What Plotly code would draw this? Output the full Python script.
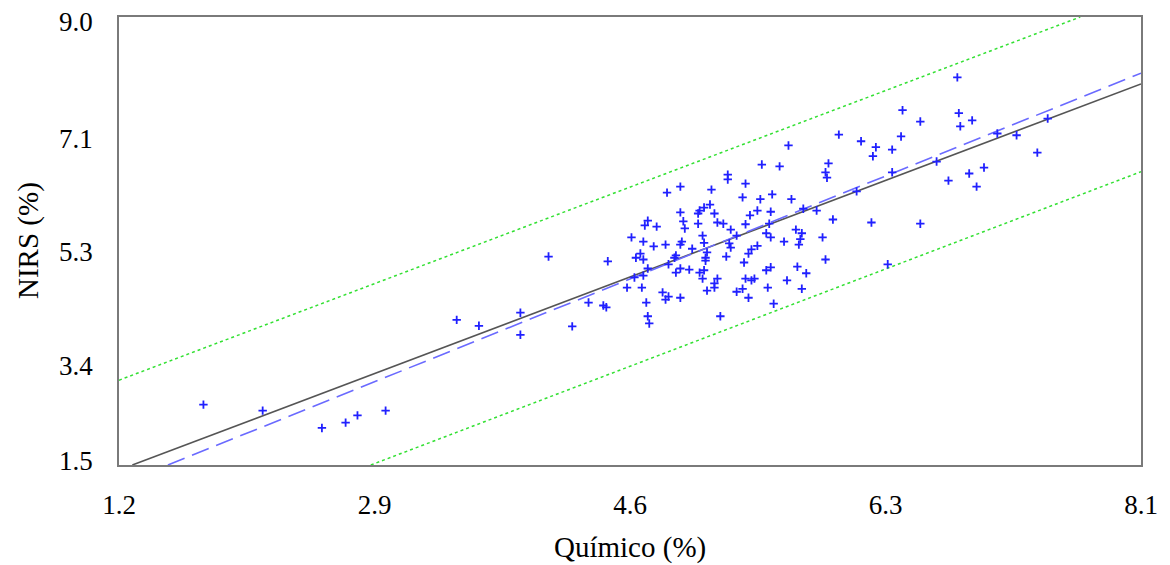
import plotly.graph_objects as go

# Scatter data: Químico (%) vs NIRS (%)
quimico = [
    1.77, 2.17, 2.57, 2.73, 2.81, 3.00, 3.48, 3.63, 3.91, 3.91, 4.10, 4.26, 4.37, 4.47, 4.49, 4.50,
    5.54, 5.31, 5.31, 5.43, 4.99, 4.90, 5.20, 5.61, 5.41, 5.53, 5.19, 5.15, 5.12, 5.11, 5.22, 4.99,
    5.51, 5.60, 5.46, 4.77, 4.75, 4.83, 5.01, 5.11, 5.02, 5.24, 5.28, 5.33, 5.43, 5.59, 4.66, 4.74,
    4.81, 4.89, 4.99, 5.00, 5.14, 5.15, 5.37, 5.32, 5.33, 5.57, 5.60, 5.51, 5.47, 5.45, 5.07, 4.72,
    4.69, 4.74, 4.96, 4.95, 5.16, 5.16, 5.30, 5.42, 4.77, 4.91, 4.99, 5.05, 5.12, 5.15, 4.96, 5.60,
    5.57, 5.43, 5.47, 5.49, 5.14, 5.24, 5.22, 4.74, 4.68, 4.63, 4.73, 5.22, 5.17, 5.37, 5.41, 5.45,
    5.58, 4.87, 4.91, 4.89, 4.99, 4.76, 5.62, 4.77, 4.78, 5.26, 5.17,
    6.86, 6.49, 6.61, 6.87, 6.88, 6.96, 6.06, 6.21, 6.31, 6.29, 6.42, 6.48, 5.72, 5.66, 5.99, 5.97,
    5.98, 6.42, 7.13, 7.26, 7.47, 7.40, 6.72, 6.80, 6.94, 7.04, 6.99, 6.18, 5.74, 5.82, 5.91, 6.02,
    6.28, 6.61, 5.77, 5.81, 5.69, 5.80, 5.79, 5.95, 5.97, 5.78, 5.84, 5.71, 5.81, 6.39,
]
nirs = [
    2.51, 2.41, 2.12, 2.21, 2.33, 2.41, 3.93, 3.83, 4.05, 3.68, 4.99, 3.82, 4.22, 4.17, 4.14, 4.91,
    6.53, 6.36, 6.28, 6.21, 6.16, 6.06, 6.11, 6.03, 5.98, 5.95, 5.86, 5.81, 5.76, 5.71, 5.71, 5.73,
    5.76, 5.74, 5.68, 5.59, 5.51, 5.49, 5.58, 5.54, 5.46, 5.56, 5.54, 5.44, 5.53, 5.54, 5.31, 5.24,
    5.16, 5.19, 5.19, 5.24, 5.34, 5.22, 5.34, 5.21, 5.14, 5.38, 5.31, 5.17, 5.11, 5.04, 5.12, 5.04,
    4.97, 4.94, 5.01, 4.97, 4.97, 4.92, 4.99, 4.89, 4.79, 4.86, 4.79, 4.77, 4.72, 4.76, 4.72, 4.81,
    4.76, 4.62, 4.59, 4.62, 4.62, 4.62, 4.54, 4.67, 4.64, 4.47, 4.47, 4.47, 4.42, 4.40, 4.45, 4.30,
    4.47, 4.39, 4.32, 4.27, 4.30, 4.22, 4.20, 3.99, 3.87, 3.99, 5.06,
    7.99, 7.44, 7.25, 7.39, 7.17, 7.27, 7.03, 6.92, 6.82, 6.67, 6.78, 7.00, 6.85, 6.50, 6.55, 6.40,
    6.31, 6.40, 7.05, 7.02, 7.30, 6.73, 6.58, 6.26, 6.38, 6.48, 6.16, 6.08, 5.95, 5.79, 5.76, 5.61,
    5.56, 5.54, 5.44, 5.38, 5.24, 5.28, 5.19, 5.31, 4.94, 4.82, 4.71, 4.59, 4.45, 4.86,
]

# Reference lines (endpoints)
fit_x = [1.29, 8.10]
fit_y = [1.50, 7.88]
ideal_x = [1.53, 8.10]
ideal_y = [1.50, 8.06]
upper_x = [1.20, 7.69]
upper_y = [2.92, 9.00]
lower_x = [2.90, 8.10]
lower_y = [1.50, 6.41]

x_tickvals = [1.2, 2.925, 4.65, 6.375, 8.1]
x_ticktext = ["1.2", "2.9", "4.6", "6.3", "8.1"]
y_tickvals = [9.0, 7.125, 5.25, 3.375, 1.5]
y_ticktext = ["9.0", "7.1", "5.3", "3.4", "1.5"]
y_label_shift = [-5, -10, -11, -13, 4]

FONT = "Liberation Serif"

fig = go.Figure()
fig.add_trace(go.Scatter(x=upper_x, y=upper_y, mode="lines",
                         line=dict(color="#33e033", width=1.5, dash="dot"), hoverinfo="skip"))
fig.add_trace(go.Scatter(x=lower_x, y=lower_y, mode="lines",
                         line=dict(color="#33e033", width=1.5, dash="dot"), hoverinfo="skip"))
fig.add_trace(go.Scatter(x=fit_x, y=fit_y, mode="lines",
                         line=dict(color="#555555", width=1.6), hoverinfo="skip"))
fig.add_trace(go.Scatter(x=ideal_x, y=ideal_y, mode="lines",
                         line=dict(color="#6a6aff", width=1.6, dash="18px,8px"), hoverinfo="skip"))
fig.add_trace(go.Scatter(x=quimico, y=nirs, mode="markers",
                         marker=dict(symbol="cross-thin", size=6, line=dict(color="#2020ff", width=1.8))))

fig.update_layout(
    width=1170, height=565,
    margin=dict(l=119, r=29, t=17, b=100),
    paper_bgcolor="white", plot_bgcolor="white",
    showlegend=False,
    font=dict(family=FONT, size=27, color="black"),
)
fig.update_xaxes(range=[1.2, 8.1], tickvals=x_tickvals, ticktext=x_ticktext,
                 showgrid=False, zeroline=False, showline=True, linecolor="#7a7a7a",
                 linewidth=2, mirror=True, ticks="", ticklabelstandoff=15,
                 tickfont=dict(family=FONT, size=27, color="black"))
fig.update_yaxes(range=[1.5, 9.0], tickvals=y_tickvals, showticklabels=False,
                 showgrid=False, zeroline=False, showline=True, linecolor="#7a7a7a",
                 linewidth=2, mirror=True, ticks="")

for v, t, s in zip(y_tickvals, y_ticktext, y_label_shift):
    fig.add_annotation(x=0, xref="paper", y=v, yref="y", text=t, showarrow=False,
                       xanchor="right", yanchor="middle", xshift=-24, yshift=s,
                       font=dict(family=FONT, size=27, color="black"))

fig.add_annotation(x=0.5, xref="paper", y=0, yref="paper", text="Químico (%)",
                   showarrow=False, xanchor="center", yanchor="top", yshift=-64,
                   font=dict(family=FONT, size=29, color="black"))
fig.add_annotation(x=0, xref="paper", y=0.5, yref="paper", text="NIRS (%)",
                   showarrow=False, textangle=-90, xanchor="center", yanchor="middle",
                   xshift=-91, font=dict(family=FONT, size=29, color="black"))

fig.write_html("out.html")
